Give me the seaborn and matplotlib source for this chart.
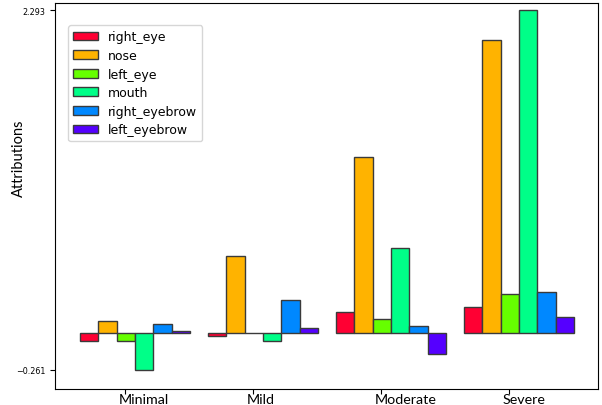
import numpy as np
import pandas as pd
import matplotlib
matplotlib.use('Agg')
import matplotlib.pyplot as plt
import matplotlib.transforms as mtransforms
import seaborn as sns

# severity groups and facial regions
severity = ['Minimal', 'Mild', 'Moderate', 'Severe']
features = ['right_eye', 'nose', 'left_eye', 'mouth', 'right_eyebrow', 'left_eyebrow']

# attribution per region, one value per severity group
right_eye = [-0.053, -0.022, 0.148, 0.188]
nose = [0.084, 0.550, 1.248, 2.080]
left_eye = [-0.058, 0.000, 0.099, 0.278]
mouth = [-0.261, -0.058, 0.602, 2.293]
right_eyebrow = [0.065, 0.233, 0.051, 0.294]
left_eyebrow = [0.018, 0.035, -0.148, 0.117]

colors = ['#ff0033', '#ffb300', '#66ff00', '#00ff88', '#0088ff', '#5500ff']

series = [right_eye, nose, left_eye, mouth, right_eyebrow, left_eyebrow]
rows = []
for feat, vals in zip(features, series):
    for sev, v in zip(severity, vals):
        rows.append({'severity': sev, 'feature': feat, 'value': v})
df = pd.DataFrame(rows)

all_vals = np.concatenate(series)
vmin, vmax = all_vals.min(), all_vals.max()

fig = plt.figure(figsize=(6.02, 4.06), dpi=100)
ax = fig.add_axes([0.0914, 0.0394, 0.902, 0.950])

sns.barplot(data=df, x='severity', y='value', hue='feature',
            order=severity, hue_order=features, palette=colors,
            saturation=1, width=6 / 7, errorbar=None,
            edgecolor='#3a3a3a', linewidth=1, ax=ax)

ax.set_xlim(-0.625, 3.617)
ax.set_ylim(-0.396, 2.341)

# y ticks only at the extremes
ax.set_yticks([vmin, vmax])
ax.set_yticklabels([f'{vmin:.3f}'.replace('-', '\u2212'), f'{vmax:.3f}'], fontsize=5.8)

# x ticks
ax.set_xticks(np.arange(len(severity)) - 0.078)
ax.set_xticklabels(severity, fontsize=10.3, family='Lato', ha='left')
ax.tick_params(axis='x', pad=-0.5)
offset = mtransforms.ScaledTranslation(-0.06, 0, fig.dpi_scale_trans)
for lbl in ax.get_xticklabels():
    lbl.set_transform(lbl.get_transform() + offset)

ax.set_xlabel('')
ax.set_ylabel('Attributions', fontsize=10.5, family='Lato')
ax.yaxis.set_label_coords(-0.053, 0.601)

ax.legend(loc='upper left', bbox_to_anchor=(0.024, 0.943), borderaxespad=0,
          fontsize=9, labelspacing=0.45)

fig.savefig('out.png', dpi=100)
